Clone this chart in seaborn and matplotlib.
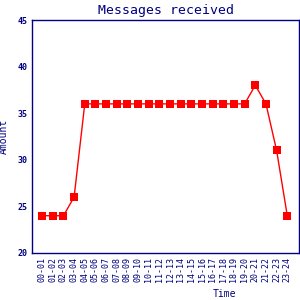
import matplotlib
matplotlib.use("Agg")
import matplotlib.pyplot as plt
import seaborn as sns
import pandas as pd

hours = ["00-01","01-02","02-03","03-04","04-05","05-06","06-07","07-08","08-09","09-10",
         "10-11","11-12","12-13","13-14","14-15","15-16","16-17","17-18","18-19","19-20",
         "20-21","21-22","22-23","23-24"]
amounts = [24,24,24,26,36,36,36,36,36,36,36,36,36,36,36,36,36,36,36,36,38,36,31,24]

sns.set_theme(style="white")
plt.rcParams['font.family'] = ['DejaVu Sans Mono', 'DejaVu Sans']
navy = "#000080"

df = pd.DataFrame({"Time": hours, "Amount": amounts, "idx": range(len(hours))})

fig = plt.figure(figsize=(3, 3), dpi=100)
ax = fig.add_axes([32/300, 47/300, 267/300, 233/300])
sns.lineplot(data=df, x="idx", y="Amount", ax=ax, color="red", linewidth=1,
             marker="s", markersize=6.3, markeredgewidth=0, markerfacecolor="red")

ax.set_xlim(-0.95, 24.1)
ax.set_ylim(20, 45)
ax.set_xticks(range(len(hours)))
ax.set_xticklabels(hours, rotation=90, fontsize=6, color=navy)
ax.set_yticks([20, 25, 30, 35, 40, 45])
ax.set_yticklabels(["20", "25", "30", "35", "40", "45"], fontsize=6, color=navy, fontweight="bold")
ax.tick_params(axis="both", direction="in", length=4, width=1, color=navy, pad=3)
for s in ax.spines.values():
    s.set_color(navy)
    s.set_linewidth(1)
ax.set_title("Messages received", fontsize=9.5, color=navy, pad=4)
ax.set_ylabel("Amount", fontsize=7, color=navy)
ax.set_xlabel("Time", fontsize=7, color=navy)
ax.xaxis.set_label_coords(0.72, -0.155)
ax.yaxis.set_label_coords(-0.085, 0.5)

fig.savefig("out.png", dpi=100)
